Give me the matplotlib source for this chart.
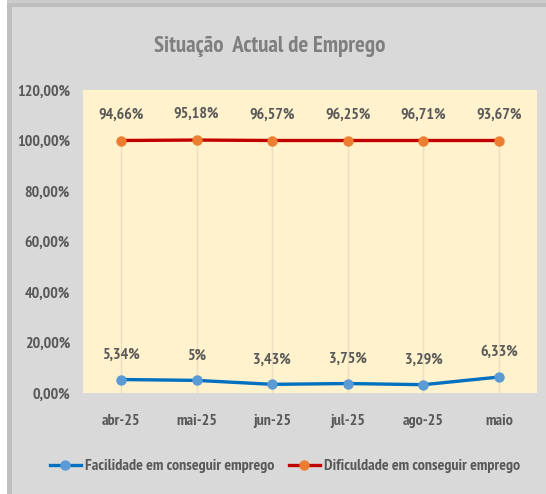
import matplotlib
matplotlib.use("Agg")
import matplotlib.pyplot as plt
from matplotlib.patches import Rectangle

categories = ["abr-25", "mai-25", "jun-25", "jul-25", "ago-25", "maio"]
facilidade = [5.34, 5.0, 3.43, 3.75, 3.29, 6.33]
dificuldade = [94.66, 95.18, 96.57, 96.25, 96.71, 93.67]
facil_labels = ["5,34%", "5%", "3,43%", "3,75%", "3,29%", "6,33%"]
dific_labels = ["94,66%", "95,18%", "96,57%", "96,25%", "96,71%", "93,67%"]
yticks = [0, 20, 40, 60, 80, 100, 120]
ytick_labels = ["0,00%", "20,00%", "40,00%", "60,00%", "80,00%", "100,00%", "120,00%"]

FONT = ["PT Sans Narrow", "DejaVu Sans"]
TXT = "#595959"
FS = 11.5

fig = plt.figure(figsize=(5.46, 4.94), dpi=100)
fig.patch.set_facecolor("white")
W, H = 546, 494
fig.patches.append(Rectangle((7 / W, 0), 1, 1, transform=fig.transFigure,
                             facecolor="#BFBFBF", edgecolor="none", zorder=-10))
fig.patches.append(Rectangle((12 / W, 0), 1, 1 - 7 / H, transform=fig.transFigure,
                             facecolor="#D9D9D9", edgecolor="none", zorder=-9))
fig.patches.append(Rectangle((7 / W, 1 - 3 / H), 1, 3 / H, transform=fig.transFigure,
                             facecolor="#CCCCCC", edgecolor="none", zorder=-8))

ax = fig.add_axes([83 / W, 1 - 393 / H, (537 - 83) / W, (393 - 90) / H])
ax.set_facecolor("#FFF2CC")
x = list(range(len(categories)))
stacked = [f + d for f, d in zip(facilidade, dificuldade)]

for xi, s in zip(x, stacked):
    ax.plot([xi, xi], [0, s], color="#EADFC4", lw=1, zorder=1)

ax.plot(x, facilidade, color="#0070C0", lw=2.4, marker="o", ms=6.5,
        mfc="#5B9BD5", mec="#5B9BD5", zorder=3, label="Facilidade em conseguir emprego")
ax.plot(x, stacked, color="#C00000", lw=2.4, marker="o", ms=6.5,
        mfc="#ED7D31", mec="#ED7D31", zorder=3, label="Dificuldade em conseguir emprego")

for xi, v, lab in zip(x, facilidade, facil_labels):
    ax.annotate(lab, (xi, v), xytext=(0, 18), textcoords="offset points",
                ha="center", va="center", fontsize=FS, fontweight="bold",
                color=TXT, family=FONT)
for xi, v, lab in zip(x, stacked, dific_labels):
    ax.annotate(lab, (xi, v), xytext=(0, 18.7), textcoords="offset points",
                ha="center", va="center", fontsize=FS, fontweight="bold",
                color=TXT, family=FONT)

ax.set_xlim(-0.5, len(categories) - 0.5)
ax.set_ylim(0, 120)
ax.set_yticks(yticks)
ax.set_yticklabels(ytick_labels, fontsize=FS, fontweight="bold", color=TXT, family=FONT)
ax.set_xticks(x)
ax.set_xticklabels(categories, fontsize=FS, fontweight="bold", color=TXT, family=FONT)
ax.tick_params(axis="y", length=0, pad=9.4)
ax.tick_params(axis="x", length=0, pad=15)
for sp in ax.spines.values():
    sp.set_visible(False)

fig.text(270 / W, 1 - 52 / H, "Situação  Actual de Emprego", ha="center", va="baseline",
         fontsize=16.5, fontweight="bold", color="#7F7F7F", family=FONT)

handles, labels = ax.get_legend_handles_labels()
leg = fig.legend(handles, labels, loc="center", bbox_to_anchor=(285 / W, 1 - 466 / H),
                 ncol=2, frameon=False, handlelength=1.9, columnspacing=0.95,
                 handletextpad=0.25, borderpad=0, borderaxespad=0,
                 prop={"family": FONT, "size": FS, "weight": "bold"})
for t in leg.get_texts():
    t.set_color(TXT)

fig.savefig("out.png", dpi=100)
